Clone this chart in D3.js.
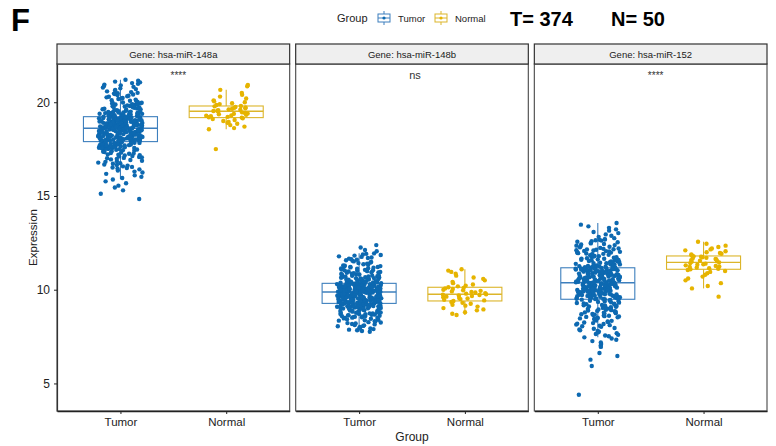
<!DOCTYPE html>
<html>
<head>
<meta charset="utf-8">
<script src="https://cdn.jsdelivr.net/npm/d3@7"></script>
<style>
  body { margin: 0; background: #fff; }
  svg text { font-family: "Liberation Sans", Arial, sans-serif; }
</style>
</head>
<body>
<svg id="chart" width="776" height="446"></svg>
<script>
/* facets, groups, ticks */
const genes  = ["hsa-miR-148a", "hsa-miR-148b", "hsa-miR-152"];
const groups = ["Tumor", "Normal"];
const yTicks = [5, 10, 15, 20];
const sigLabels = ["****", "ns", "****"];

/* box statistics (one entry per gene) */
const tumorQ1  = [17.90, 9.27, 9.49];
const tumorMed = [18.61, 9.88, 10.37];
const tumorQ3  = [19.23, 10.34, 11.17];
const tumorLo  = [15.90, 7.76, 7.46];
const tumorHi  = [21.20, 11.94, 13.56];
const normalQ1  = [19.18, 9.40, 11.09];
const normalMed = [19.52, 9.76, 11.46];
const normalQ3  = [19.80, 10.13, 11.80];
const normalLo  = [18.56, 8.65, 10.07];
const normalHi  = [20.66, 11.09, 12.56];

/* samples (T = 374, N = 50) */
const tumor148a = [
14.84,15.12,15.30,15.45,15.55,15.68,15.78,15.88,15.96,
16.02,16.10,16.18,16.25,16.30,16.36,16.42,16.46,16.49,
16.52,16.55,16.58,16.62,16.65,16.68,16.72,16.75,16.78,16.82,16.85,16.88,16.92,16.95,16.98,
17.01,17.03,17.06,17.08,17.11,17.13,17.16,17.18,17.20,17.22,17.25,17.27,17.29,17.31,17.34,17.36,17.38,17.40,17.42,17.44,17.46,17.48,
17.50,17.51,17.52,17.53,17.54,17.55,17.56,17.57,17.58,17.59,17.60,17.61,17.62,17.63,17.64,17.65,17.66,17.67,17.68,17.69,
17.70,17.71,17.72,17.73,17.74,17.75,17.76,17.77,17.78,17.79,17.80,17.81,17.82,17.83,17.84,17.85,17.87,17.89,
17.90,17.91,17.92,17.93,17.94,17.95,17.96,17.97,17.98,17.99,
18.00,18.01,18.02,18.03,18.04,18.05,18.06,18.07,18.08,18.09,
18.10,18.11,18.12,18.13,18.14,18.15,18.16,18.17,18.18,18.19,
18.20,18.21,18.22,18.23,18.24,18.25,18.26,18.27,18.28,18.29,
18.30,18.31,18.32,18.33,18.34,18.35,18.36,18.37,18.38,18.39,
18.40,18.41,18.42,18.43,18.44,18.45,18.46,18.47,18.48,18.49,
18.50,18.51,18.52,18.53,18.54,18.55,18.56,18.57,18.58,18.59,
17.92,17.97,18.03,18.07,18.12,18.16,18.21,18.24,18.28,18.33,18.36,18.41,18.44,18.47,18.51,18.53,18.55,18.57,18.58,18.02,18.18,18.38,18.48,
18.60,18.61,18.62,18.63,18.64,18.65,18.66,18.67,18.68,18.69,
18.70,18.71,18.72,18.73,18.74,18.75,18.76,18.77,18.78,18.79,
18.80,18.81,18.82,18.83,18.84,18.85,18.86,18.87,18.88,18.89,
18.90,18.91,18.92,18.93,18.94,18.95,18.96,18.97,18.98,18.99,
19.00,19.01,19.02,19.03,19.04,19.05,19.06,19.07,19.08,19.09,
19.10,19.11,19.12,19.13,19.14,19.15,19.16,19.17,19.18,19.19,19.20,19.21,19.22,
18.61,18.64,18.67,18.71,18.74,18.77,18.81,18.84,18.87,18.91,18.94,18.97,19.01,19.04,19.07,19.11,
19.14,19.17,19.21,18.62,18.68,18.73,18.79,18.83,18.88,18.93,18.98,19.03,19.08,19.13,19.18,
19.23,19.24,19.25,19.26,19.27,19.28,19.29,19.30,19.31,19.32,19.33,19.34,19.35,19.36,19.37,19.38,19.39,19.40,
19.41,19.42,19.43,19.44,19.45,19.46,19.47,19.48,19.49,19.50,
19.52,19.53,19.55,19.57,19.58,19.60,19.62,19.63,19.65,19.67,19.68,19.70,19.72,19.73,19.75,19.77,19.78,19.80,
19.82,19.83,19.85,19.87,19.88,19.90,19.92,19.93,19.95,19.96,19.97,19.99,
20.02,20.05,20.08,20.11,20.14,20.17,20.20,20.23,20.26,20.29,20.32,20.35,20.38,20.41,20.44,20.46,20.48,20.50,
20.54,20.58,20.62,20.66,20.70,20.74,20.78,20.82,20.86,20.90,20.94,20.98,
21.02,21.06,21.10,21.15,21.20
];
const normal148a = [
17.50,18.56,18.62,18.70,18.78,18.85,18.90,18.95,19.00,19.05,19.10,19.15,19.18,
19.20,19.22,19.25,19.28,19.30,19.33,19.36,19.38,19.40,19.43,19.46,19.50,
19.53,19.55,19.58,19.60,19.62,19.65,19.68,19.70,19.72,19.75,19.78,19.80,
19.85,19.90,19.95,20.00,20.05,20.10,20.20,20.30,20.40,20.50,20.66,20.85,20.92
];
const tumor148b = [
7.76,7.80,7.84,7.87,7.90,7.93,7.96,7.99,
8.02,8.05,8.07,8.10,8.12,8.15,8.17,8.20,8.22,8.25,8.27,8.30,8.32,8.35,8.37,8.40,8.42,8.45,8.47,8.49,
8.50,8.51,8.53,8.54,8.56,8.57,8.59,8.60,8.61,8.63,8.64,8.66,8.67,8.69,8.70,8.71,8.73,8.74,
8.76,8.77,8.79,8.80,8.81,8.83,8.84,8.86,8.87,8.89,8.90,8.91,8.93,8.94,8.96,8.97,8.99,
9.00,9.01,9.02,9.03,9.04,9.05,9.06,9.07,9.08,9.09,9.10,9.11,9.12,9.13,9.14,9.15,9.16,9.17,9.18,9.19,
9.20,9.21,9.22,9.23,9.24,9.25,9.26,9.01,9.12,9.23,
9.27,9.28,9.29,9.30,9.31,9.32,9.33,9.34,9.35,9.36,9.37,9.38,9.39,9.40,9.41,9.42,9.43,9.44,9.45,9.46,
9.47,9.48,9.49,9.50,9.51,9.52,9.53,9.54,9.55,9.56,9.57,9.58,9.59,9.60,9.61,9.62,9.63,9.64,9.65,9.66,
9.67,9.68,9.69,9.70,9.71,9.72,9.73,9.74,9.75,9.76,9.77,9.78,9.79,9.80,9.81,9.82,9.83,9.84,9.85,9.86,9.87,
9.28,9.31,9.34,9.37,9.40,9.43,9.46,9.49,9.52,9.55,9.58,9.61,9.64,9.67,9.70,9.73,9.76,9.79,9.82,9.85,
9.30,9.36,9.42,9.48,9.54,9.60,9.66,9.72,9.78,9.84,9.33,9.57,9.81,
9.88,9.89,9.90,9.91,9.92,9.93,9.94,9.95,9.96,9.97,9.98,9.99,10.00,10.01,10.02,10.03,10.04,10.05,10.06,10.07,
10.08,10.09,10.10,10.11,10.12,10.13,10.14,10.15,10.16,10.17,10.18,10.19,10.20,10.21,10.22,10.23,10.24,10.25,
10.26,10.27,10.28,10.29,10.30,10.31,10.32,10.33,10.34,
9.88,9.90,9.92,9.94,9.96,9.98,10.00,10.02,10.04,10.06,10.08,10.10,10.12,10.14,10.16,10.18,10.20,10.22,
10.24,10.26,10.28,10.30,10.32,9.89,9.93,9.97,10.01,10.05,10.09,10.13,10.17,10.21,10.25,10.29,10.33,
9.91,9.95,9.99,10.03,10.07,10.11,10.15,10.19,10.23,10.27,10.31,
10.35,10.36,10.37,10.38,10.39,10.40,10.41,10.42,10.43,10.44,10.45,10.46,10.47,10.48,10.50,10.52,10.53,10.54,
10.55,10.56,10.57,10.58,10.60,10.61,10.62,10.63,10.64,10.65,10.66,10.67,10.68,10.69,10.70,10.71,10.72,10.73,
10.74,10.75,10.77,10.79,
10.81,10.82,10.84,10.86,10.88,10.90,10.92,10.93,10.95,10.97,10.99,11.01,11.02,11.04,11.06,11.08,11.10,11.12,
11.13,11.15,11.17,11.19,11.21,11.22,11.24,11.26,11.28,11.30,
11.33,11.36,11.39,11.42,11.45,11.48,11.51,11.54,11.57,11.60,11.63,11.66,11.69,11.72,11.75,11.78,
11.82,11.85,11.88,11.91,11.94,12.05,12.12,12.25,12.38
];
const normal148b = [
8.65,8.72,8.80,8.90,8.95,9.02,9.10,9.15,9.20,9.25,9.30,9.35,9.40,
9.43,9.46,9.50,9.53,9.56,9.60,9.63,9.66,9.69,9.72,9.74,9.76,
9.79,9.82,9.85,9.88,9.91,9.94,9.97,10.00,10.04,10.07,10.10,10.13,
10.18,10.22,10.28,10.35,10.42,10.50,10.58,10.65,10.75,10.85,10.95,11.02,11.09
];
const tumor152 = [
4.40,5.93,6.27,6.46,6.62,6.95,7.02,
7.10,7.18,7.26,7.33,7.40,7.46,
7.52,7.56,7.60,7.64,7.68,7.72,7.76,7.80,7.84,7.88,7.92,7.96,
8.02,8.05,8.08,8.11,8.14,8.17,8.19,8.22,8.25,8.28,8.31,8.34,8.36,8.39,8.42,8.44,8.47,8.49,
8.51,8.53,8.55,8.57,8.59,8.61,8.63,8.65,8.67,8.69,8.71,8.73,8.75,8.77,8.79,8.81,8.83,8.85,8.87,8.89,
8.91,8.93,8.95,8.97,8.99,
9.01,9.03,9.05,9.07,9.09,9.11,9.13,9.15,9.17,9.19,9.21,9.23,9.25,9.27,9.29,9.31,9.33,9.35,9.37,9.39,
9.41,9.43,9.45,9.47,9.49,
9.50,9.51,9.52,9.53,9.54,9.55,9.56,9.57,9.58,9.59,9.60,9.61,9.62,9.63,9.64,9.65,9.66,9.67,9.68,9.69,
9.70,9.71,9.72,9.73,9.74,9.75,9.76,9.77,9.78,9.79,9.80,9.81,9.82,9.83,9.84,9.85,9.86,9.87,9.88,9.89,
9.90,9.91,9.92,9.93,9.94,9.95,9.96,9.97,9.98,9.99,10.00,10.01,10.02,10.03,10.04,10.05,10.06,10.07,10.08,10.09,
10.10,10.11,10.12,10.13,10.14,10.15,10.16,10.17,10.18,10.19,10.20,10.21,10.22,10.23,10.24,10.25,10.26,10.27,
10.28,10.29,10.30,10.31,10.32,10.33,10.34,10.35,10.36,10.37,
9.55,9.75,9.95,10.05,10.15,10.25,
10.38,10.39,10.40,10.41,10.42,10.43,10.44,10.45,10.46,10.47,10.48,10.49,10.50,10.51,10.52,10.53,10.54,10.55,
10.56,10.57,10.58,10.59,10.60,10.61,10.62,10.63,10.64,10.65,10.66,10.67,10.68,10.69,10.70,10.71,10.72,10.73,
10.74,10.75,10.76,10.77,10.78,10.79,10.80,10.81,10.82,10.83,10.84,10.85,10.86,10.87,10.88,10.89,10.90,10.91,
10.92,10.93,10.94,10.95,10.96,10.97,10.98,10.99,11.00,11.01,11.02,11.03,11.04,11.05,11.06,11.07,11.08,11.09,
11.10,11.11,11.12,11.13,11.14,11.15,11.16,11.17,
10.40,10.45,10.50,10.60,10.70,10.80,10.90,10.95,11.00,11.05,11.10,11.12,11.15,
11.18,11.20,11.21,11.23,11.24,11.26,11.27,11.29,11.30,11.32,11.33,11.35,11.36,11.38,11.39,11.41,11.42,11.44,
11.45,11.47,11.48,11.50,11.51,11.53,11.54,11.56,11.57,11.59,11.60,11.62,11.63,11.65,11.66,11.68,11.69,
11.71,11.73,11.75,11.77,11.79,11.80,11.82,11.84,11.86,11.88,11.89,11.91,11.93,11.95,11.97,11.98,12.00,12.02,
12.04,12.06,12.07,12.09,12.11,12.13,12.15,12.16,12.18,12.20,
12.23,12.26,12.29,12.32,12.35,12.38,12.41,12.44,12.47,12.50,12.53,12.56,12.59,12.62,12.64,12.66,12.68,12.70,
12.75,12.82,12.88,12.95,13.02,13.08,13.15,13.22,13.30,13.38,13.47,13.56
];
const normal152 = [
9.63,10.07,10.20,10.35,10.50,10.60,10.70,10.80,10.88,10.95,11.00,11.05,11.09,
11.12,11.15,11.18,11.21,11.24,11.27,11.30,11.33,11.36,11.39,11.42,11.46,
11.49,11.52,11.55,11.58,11.61,11.64,11.67,11.70,11.73,11.76,11.78,11.80,
11.84,11.88,11.92,11.96,12.00,12.05,12.10,12.15,12.20,12.28,12.35,12.45,12.56
];

const tumorSets  = [tumor148a, tumor148b, tumor152];
const normalSets = [normal148a, normal148b, normal152];

/* colours */
const pointCol = { Tumor: "#0d69b1", Normal: "#e6b400" };
const boxCol   = { Tumor: "#3d7fbd", Normal: "#dcb52a" };

/* layout */
const W = 776, H = 446;
const panelTop = 64, panelBottom = 411, stripTop = 44;
const svg = d3.select("#chart");
svg.append("rect").attr("width", W).attr("height", H).attr("fill", "#fff");

const fx = d3.scaleBand().domain(genes).range([57, 767]).paddingInner(0.0252).paddingOuter(0);
const bw = fx.bandwidth();
const xi = d3.scalePoint().domain(groups).range([0, bw]).padding(0.6);
const step = xi.step();
const y = d3.scaleLinear().domain([3.53, 22.04]).range([panelBottom, panelTop]);

/* deterministic jitter offset (layout only) */
function jit(i, k) {
  const s = Math.sin((i + 1) * 12.9898 + k * 78.233) * 43758.5453;
  return s - Math.floor(s);
}

genes.forEach((gene, gi) => {
  const g = svg.append("g").attr("transform", `translate(${fx(gene)},0)`);

  const stats = {
    Tumor:  { q1: tumorQ1[gi],  med: tumorMed[gi],  q3: tumorQ3[gi],  lo: tumorLo[gi],  hi: tumorHi[gi] },
    Normal: { q1: normalQ1[gi], med: normalMed[gi], q3: normalQ3[gi], lo: normalLo[gi], hi: normalHi[gi] }
  };
  const boxW = step * 0.7;

  /* boxes */
  groups.forEach(grp => {
    const s = stats[grp], cx = xi(grp), c = boxCol[grp];
    const bx = g.append("g").attr("fill", "none").attr("stroke", c).attr("stroke-width", 1.1);
    bx.append("line").attr("x1", cx).attr("x2", cx).attr("y1", y(s.q3)).attr("y2", y(s.hi));
    bx.append("line").attr("x1", cx).attr("x2", cx).attr("y1", y(s.q1)).attr("y2", y(s.lo));
    bx.append("rect").attr("x", cx - boxW / 2).attr("width", boxW)
      .attr("y", y(s.q3)).attr("height", y(s.q1) - y(s.q3));
    bx.append("line").attr("x1", cx - boxW / 2).attr("x2", cx + boxW / 2)
      .attr("y1", y(s.med)).attr("y2", y(s.med)).attr("stroke-width", 1.4);
  });

  /* jittered points */
  const pts = [];
  tumorSets[gi].forEach((v, i) => pts.push({ grp: "Tumor", v, j: jit(i, gi) }));
  normalSets[gi].forEach((v, i) => pts.push({ grp: "Normal", v, j: jit(i + 500, gi + 7) }));
  g.append("g").selectAll("circle").data(pts).join("circle")
    .attr("cx", d => xi(d.grp) + (d.j - 0.5) * 2 * 0.21 * step)
    .attr("cy", d => y(d.v))
    .attr("r", 2.2)
    .attr("fill", d => pointCol[d.grp]);

  /* significance */
  g.append("text")
    .attr("x", bw / 2 + (sigLabels[gi] === "ns" ? 3 : 5))
    .attr("y", 79)
    .attr("text-anchor", "middle")
    .attr("font-size", sigLabels[gi] === "ns" ? 11 : 10)
    .attr("fill", "#333")
    .text(sigLabels[gi]);

  /* panel border */
  g.append("rect").attr("x", 0).attr("y", panelTop).attr("width", bw)
    .attr("height", panelBottom - panelTop)
    .attr("fill", "none").attr("stroke", "#555").attr("stroke-width", 1.2);

  /* strip */
  g.append("rect").attr("x", 0).attr("y", stripTop).attr("width", bw)
    .attr("height", panelTop - stripTop)
    .attr("fill", "#efefef").attr("stroke", "#333").attr("stroke-width", 1.2);
  g.append("text").attr("x", bw / 2).attr("y", 57.5)
    .attr("text-anchor", "middle").attr("font-size", 9.5).attr("fill", "#1a1a1a")
    .text(`Gene: ${gene}`);

  /* x axis */
  const xa = g.append("g").attr("transform", `translate(0,${panelBottom})`)
    .call(d3.axisBottom(xi).tickSizeInner(3).tickSizeOuter(0).tickPadding(4));
  xa.select(".domain").attr("stroke", "#222").attr("stroke-width", 1.4);
  xa.selectAll(".tick line").attr("stroke", "#222");
  xa.selectAll("text").attr("font-size", 11.5).attr("fill", "#222")
    .style("font-family", "'Liberation Sans', Arial, sans-serif");

  /* y axis on first panel */
  if (gi === 0) {
    const ya = g.append("g").call(d3.axisLeft(y).tickValues(yTicks).tickSizeInner(3).tickSizeOuter(0).tickPadding(4));
    ya.select(".domain").attr("stroke", "#333").attr("stroke-width", 1.2);
    ya.selectAll(".tick line").attr("stroke", "#222");
    ya.selectAll("text").attr("font-size", 12).attr("fill", "#222")
      .style("font-family", "'Liberation Sans', Arial, sans-serif");
  }
});

/* axis titles */
svg.append("text").attr("transform", `translate(33,${(panelTop + panelBottom) / 2}) rotate(-90)`)
  .attr("text-anchor", "middle").attr("dy", "0.35em").attr("font-size", 11.5).attr("fill", "#222")
  .text("Expression");
svg.append("text").attr("x", 412).attr("y", 441).attr("text-anchor", "middle")
  .attr("font-size", 12).attr("fill", "#222").text("Group");

/* panel letter */
svg.append("text").attr("x", 11).attr("y", 31).attr("font-size", 31).attr("font-weight", "bold")
  .attr("fill", "#000").text("F");

/* legend */
const lg = svg.append("g");
lg.append("text").attr("x", 337).attr("y", 21.5).attr("font-size", 11).attr("fill", "#222").text("Group");
const legendX = { Tumor: 384, Normal: 441 };
groups.forEach(grp => {
  const cx = legendX[grp], c = boxCol[grp];
  const k = lg.append("g").attr("fill", "none").attr("stroke", c).attr("stroke-width", 1);
  k.append("line").attr("x1", cx).attr("x2", cx).attr("y1", 11).attr("y2", 25);
  k.append("rect").attr("x", cx - 6).attr("y", 14).attr("width", 12).attr("height", 8).attr("fill", "#fff");
  k.append("line").attr("x1", cx - 6).attr("x2", cx + 6).attr("y1", 18).attr("y2", 18);
  lg.append("circle").attr("cx", cx).attr("cy", 18).attr("r", 1.6).attr("fill", pointCol[grp]);
  lg.append("text").attr("x", cx + 14).attr("y", 21.5).attr("font-size", 9.5).attr("fill", "#222").text(grp);
});

/* sample counts */
svg.append("text").attr("x", 510).attr("y", 25.5).attr("font-size", 20).attr("font-weight", "bold")
  .attr("fill", "#000").text("T= 374");
svg.append("text").attr("x", 611).attr("y", 25.5).attr("font-size", 20).attr("font-weight", "bold")
  .attr("fill", "#000").text("N= 50");
</script>
</body>
</html>
